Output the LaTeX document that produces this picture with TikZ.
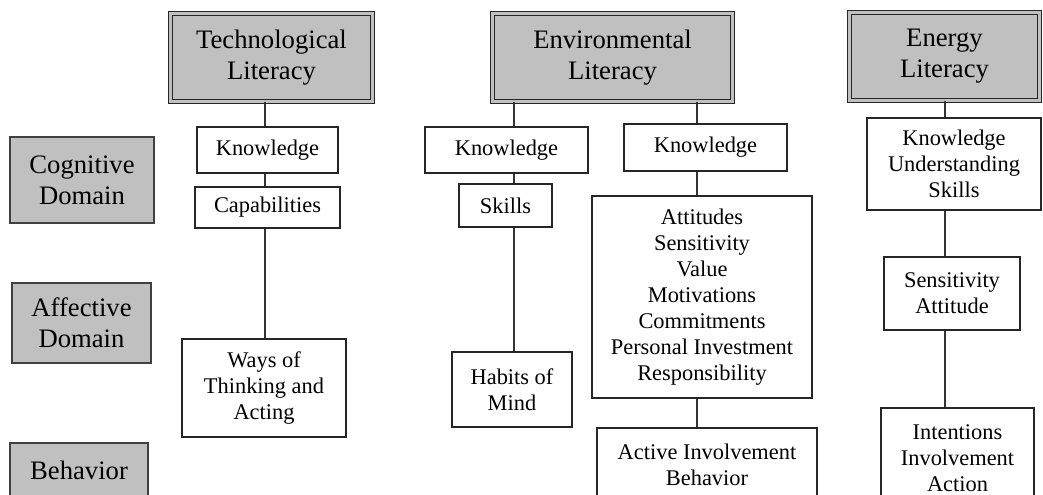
\documentclass[tikz,border=0pt]{standalone}
\usepackage{fontspec}
\setmainfont{Liberation Serif}
\definecolor{boxgray}{HTML}{C0C0C0}

\begin{document}
\begin{tikzpicture}[x=0.75pt,y=-0.75pt,
  head/.style={rectangle,draw=black!85,fill=boxgray,line width=1.1pt,double=boxgray,double distance=1.6pt,inner sep=0pt,align=center,font=\fontsize{20}{23.25}\selectfont},
  domainbox/.style={rectangle,draw=black!75,fill=boxgray,line width=1.1pt,inner sep=0pt,align=center,font=\fontsize{20}{23.25}\selectfont},
  item/.style={rectangle,draw=black!85,fill=white,line width=1pt,inner sep=0pt,align=center,font=\fontsize{16.8}{19.5}\selectfont},
  link/.style={draw=black!80,line width=1.1pt}]
\useasboundingbox (0,0) rectangle (1043,494);
\clip (0,0) rectangle (1043,494);

% column axes
\coordinate (tx) at (265,0);
\coordinate (lx) at (514,0);
\coordinate (rx) at (697,0);
\coordinate (nx) at (945,0);

% headers
\path (271.5,57.5) node[head,minimum width=151.5pt,minimum height=66pt] (th) {Technological\\Literacy};
\path (612.5,57.5) node[head,minimum width=180pt,minimum height=66pt] (eh0) {Environmental\\Literacy};
\path (944.5,56.5) node[head,minimum width=142.5pt,minimum height=66pt] (nh) {Energy\\Literacy};

% domains
\path (82,180) node[domainbox,minimum width=108pt,minimum height=64.5pt] (cog) {Cognitive\\Domain};
\path (81.5,323) node[domainbox,minimum width=104.25pt,minimum height=60pt] (aff) {Affective\\Domain};
\path (79,470.5) node[domainbox,minimum width=103.5pt,minimum height=41.25pt] (beh) {Behavior};

% technological
\path (267.5,150) node[item,minimum width=105.75pt,minimum height=34.5pt] (tk) {Knowledge};
\path (267.5,207.5) node[item,minimum width=108.75pt,minimum height=30.75pt] (tc) {Capabilities};
\path (264,388) node[item,minimum width=123pt,minimum height=73.5pt] (tw) {Ways of\\Thinking and\\Acting};
\draw[link] (th.south -| tx) -- (tk.north -| tx);
\draw[link] (tk.south -| tx) -- (tc.north -| tx);
\draw[link] (tc.south -| tx) -- (tw.north -| tx);

% environmental
\path (506.5,150) node[item,minimum width=122.25pt,minimum height=34.5pt] (el) {Knowledge};
\path (505.5,205.5) node[item,minimum width=69.75pt,minimum height=32.25pt] (es) {Skills};
\path (512,389.5) node[item,minimum width=90pt,minimum height=56.25pt] (eh) {Habits of\\Mind};
\path (705.5,147.5) node[item,minimum width=122.25pt,minimum height=35.25pt] (er) {Knowledge};
\path (702,297) node[item,minimum width=165pt,minimum height=151.5pt] (ea) {Attitudes\\Sensitivity\\Value\\Motivations\\Commitments\\Personal Investment\\Responsibility};
\path (707,465) node[item,minimum width=165pt,minimum height=55.5pt] (ev) {Active Involvement\\Behavior};
\draw[link] (eh0.south -| lx) -- (el.north -| lx);
\draw[link] (el.south -| lx) -- (es.north -| lx);
\draw[link] (es.south -| lx) -- (eh.north -| lx);
\draw[link] (eh0.south -| rx) -- (er.north -| rx);
\draw[link] (er.south -| rx) -- (ea.north -| rx);
\draw[link] (ea.south -| rx) -- (ev.north -| rx);

% energy
\path (954,164) node[item,minimum width=130.5pt,minimum height=69pt] (nk) {Knowledge\\Understanding\\Skills};
\path (952,293.5) node[item,minimum width=102pt,minimum height=54.75pt] (ns) {Sensitivity\\Attitude};
\path (957.5,458) node[item,minimum width=114.75pt,minimum height=75pt] (ni) {Intentions\\Involvement\\Action};
\draw[link] (nh.south -| nx) -- (nk.north -| nx);
\draw[link] (nk.south -| nx) -- (ns.north -| nx);
\draw[link] (ns.south -| nx) -- (ni.north -| nx);
\end{tikzpicture}
\end{document}
